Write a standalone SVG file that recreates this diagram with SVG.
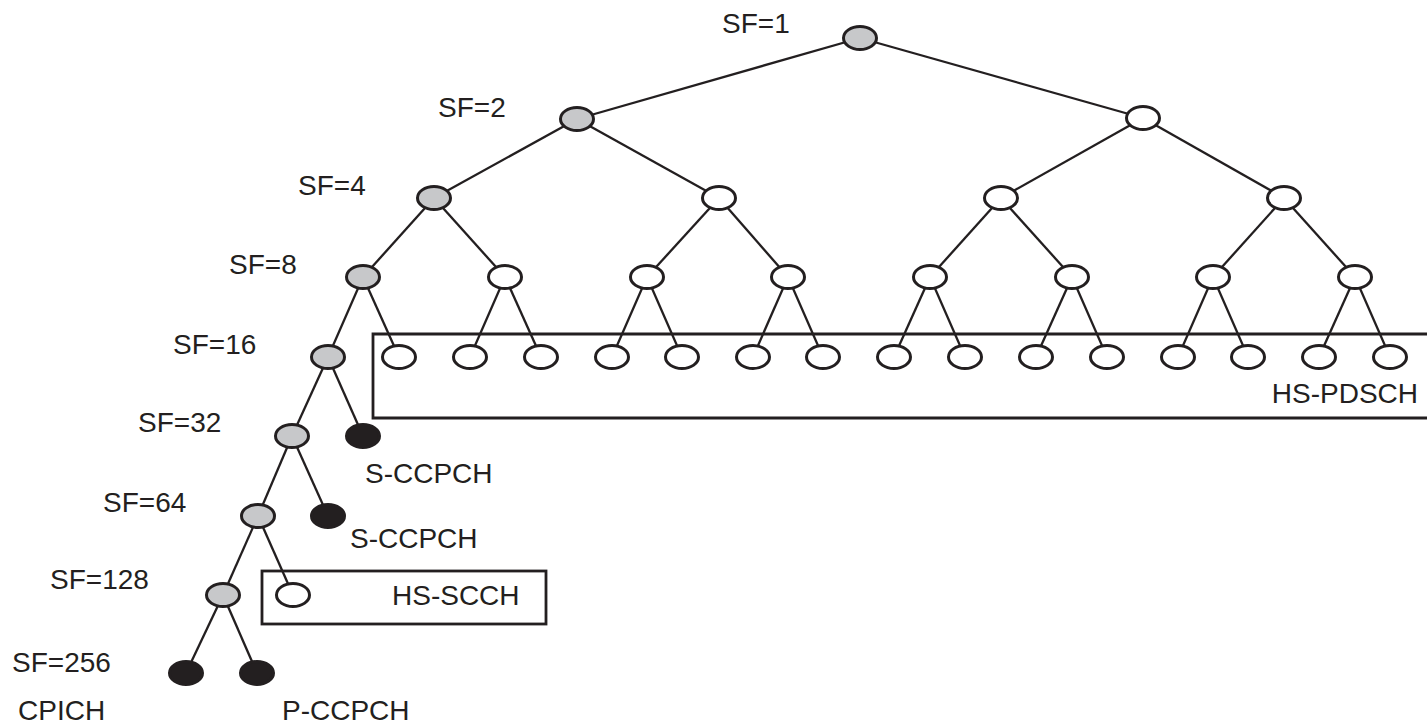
<svg xmlns="http://www.w3.org/2000/svg" width="1427" height="725" viewBox="0 0 1427 725">
<style>
text{font-family:"Liberation Sans",Arial,sans-serif;font-size:28px;fill:#231f20}
.n{stroke:#231f20;stroke-width:3;fill:#fff}
.g{fill:#c7c8ca}
.b{fill:#231f20}
.e line{stroke:#231f20;stroke-width:2.3}
.box{fill:none;stroke:#231f20;stroke-width:2.8}
</style>
<defs>
<ellipse id="o" rx="16.5" ry="11.5"/>
</defs>
<rect width="1427" height="725" fill="#fff"/>
<g id="connectors" class="e">
<line x1="860" y1="38" x2="577" y2="119"/><line x1="860" y1="38" x2="1143" y2="118"/>
<line x1="577" y1="119" x2="434" y2="198"/><line x1="577" y1="119" x2="719" y2="198"/>
<line x1="1143" y1="118" x2="1001" y2="198"/><line x1="1143" y1="118" x2="1284" y2="198"/>
<line x1="434" y1="198" x2="363" y2="277"/><line x1="434" y1="198" x2="505" y2="277"/>
<line x1="719" y1="198" x2="647" y2="277"/><line x1="719" y1="198" x2="788" y2="277"/>
<line x1="1001" y1="198" x2="930" y2="277"/><line x1="1001" y1="198" x2="1072" y2="277"/>
<line x1="1284" y1="198" x2="1213" y2="277"/><line x1="1284" y1="198" x2="1355" y2="277"/>
<line x1="363" y1="277" x2="328" y2="357"/><line x1="363" y1="277" x2="399" y2="357"/>
<line x1="505" y1="277" x2="470" y2="357"/><line x1="505" y1="277" x2="541" y2="357"/>
<line x1="647" y1="277" x2="612" y2="357"/><line x1="647" y1="277" x2="682" y2="357"/>
<line x1="788" y1="277" x2="753" y2="357"/><line x1="788" y1="277" x2="823" y2="357"/>
<line x1="930" y1="277" x2="894" y2="357"/><line x1="930" y1="277" x2="965" y2="357"/>
<line x1="1072" y1="277" x2="1036" y2="357"/><line x1="1072" y1="277" x2="1107" y2="357"/>
<line x1="1213" y1="277" x2="1178" y2="357"/><line x1="1213" y1="277" x2="1248" y2="357"/>
<line x1="1355" y1="277" x2="1319" y2="357"/><line x1="1355" y1="277" x2="1390" y2="357"/>
<line x1="328" y1="357" x2="292" y2="436"/><line x1="328" y1="357" x2="363" y2="436"/>
<line x1="292" y1="436" x2="258" y2="516"/><line x1="292" y1="436" x2="328" y2="516"/>
<line x1="258" y1="516" x2="223" y2="595"/><line x1="258" y1="516" x2="293" y2="595"/>
<line x1="223" y1="595" x2="186" y2="673"/><line x1="223" y1="595" x2="257" y2="673"/>
</g>
<g id="boxes">
<path class="box" d="M1432 334H373V418H1432"/>
<rect class="box" x="262" y="571" width="284" height="53"/>
</g>
<g id="sf1"><use href="#o" class="n g" x="860" y="38"/></g>
<g id="sf2"><use href="#o" class="n g" x="577" y="119"/><use href="#o" class="n" x="1143" y="118"/></g>
<g id="sf4"><use href="#o" class="n g" x="434" y="198"/><use href="#o" class="n" x="719" y="198"/><use href="#o" class="n" x="1001" y="198"/><use href="#o" class="n" x="1284" y="198"/></g>
<g id="sf8"><use href="#o" class="n g" x="363" y="277"/><use href="#o" class="n" x="505" y="277"/><use href="#o" class="n" x="647" y="277"/><use href="#o" class="n" x="788" y="277"/><use href="#o" class="n" x="930" y="277"/><use href="#o" class="n" x="1072" y="277"/><use href="#o" class="n" x="1213" y="277"/><use href="#o" class="n" x="1355" y="277"/></g>
<g id="sf16"><use href="#o" class="n g" x="328" y="357"/><use href="#o" class="n" x="399" y="357"/><use href="#o" class="n" x="470" y="357"/><use href="#o" class="n" x="541" y="357"/><use href="#o" class="n" x="612" y="357"/><use href="#o" class="n" x="682" y="357"/><use href="#o" class="n" x="753" y="357"/><use href="#o" class="n" x="823" y="357"/><use href="#o" class="n" x="894" y="357"/><use href="#o" class="n" x="965" y="357"/><use href="#o" class="n" x="1036" y="357"/><use href="#o" class="n" x="1107" y="357"/><use href="#o" class="n" x="1178" y="357"/><use href="#o" class="n" x="1248" y="357"/><use href="#o" class="n" x="1319" y="357"/><use href="#o" class="n" x="1390" y="357"/></g>
<g id="sf32"><use href="#o" class="n g" x="292" y="436"/><use href="#o" class="n b" x="363" y="436"/></g>
<g id="sf64"><use href="#o" class="n g" x="258" y="516"/><use href="#o" class="n b" x="328" y="516"/></g>
<g id="sf128"><use href="#o" class="n g" x="223" y="595"/><use href="#o" class="n" x="293" y="595"/></g>
<g id="sf256"><use href="#o" class="n b" x="186" y="673"/><use href="#o" class="n b" x="257" y="673"/></g>
<g id="labels">
<text x="722" y="33">SF=1</text>
<text x="438" y="117">SF=2</text>
<text x="298" y="195">SF=4</text>
<text x="229" y="274">SF=8</text>
<text x="173" y="354">SF=16</text>
<text x="138" y="432">SF=32</text>
<text x="103" y="512">SF=64</text>
<text x="50" y="589">SF=128</text>
<text x="12" y="672">SF=256</text>
<text x="18" y="720">CPICH</text>
<text x="282" y="720">P-CCPCH</text>
<text x="365" y="483">S-CCPCH</text>
<text x="350" y="548">S-CCPCH</text>
<text x="392" y="605">HS-SCCH</text>
<text x="1418" y="403" text-anchor="end">HS-PDSCH</text>
</g>
</svg>
